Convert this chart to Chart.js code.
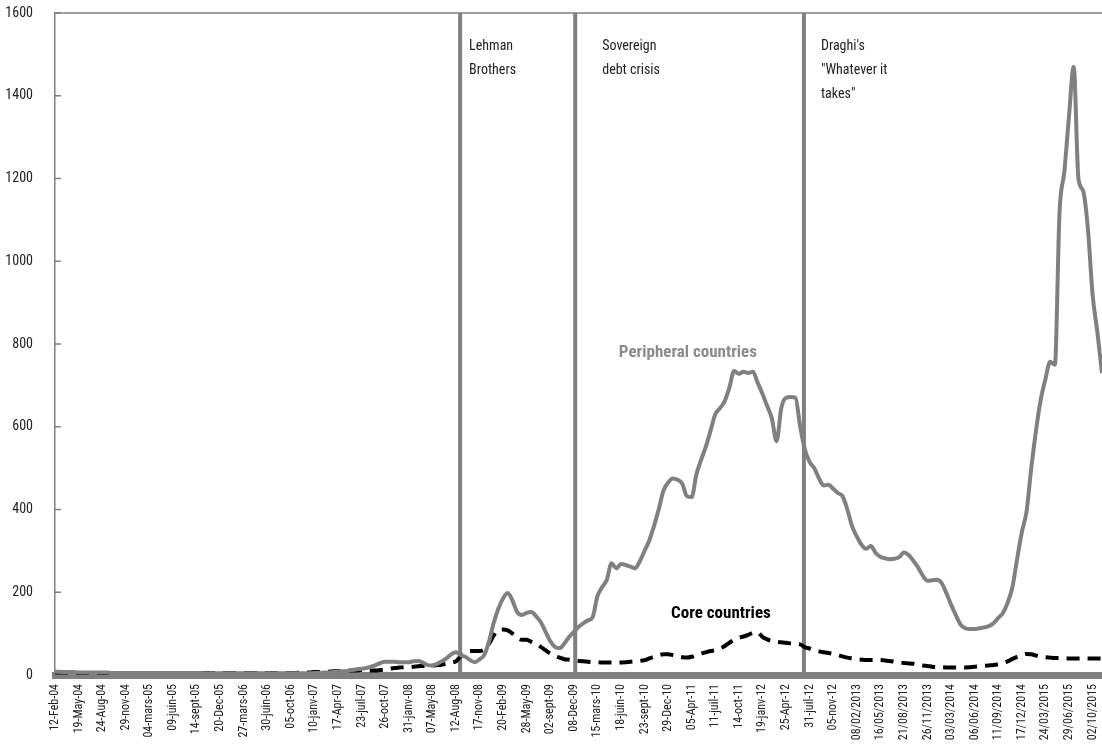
<!DOCTYPE html>
<html>
<head>
<meta charset="utf-8">
<script src="https://cdn.jsdelivr.net/npm/chart.js@4"></script>
<style>
html, body { margin: 0; padding: 0; background: #fff; overflow: hidden; }
</style>
</head>
<body>
<canvas id="myChart" width="1102" height="751"></canvas>
<script>
// tick labels, one every 5 data points
var tickLabels = ['12-Feb-04', '19-May-04', '24-Aug-04', '29-nov-04', '04-mars-05', '09-juin-05', '14-sept-05', '20-Dec-05',
    '27-mars-06', '30-juin-06', '05-oct-06', '10-janv-07', '17-Apr-07', '23-juil-07', '26-oct-07', '31-janv-08',
    '07-May-08', '12-Aug-08', '17-nov-08', '20-Feb-09', '28-May-09', '02-sept-09', '08-Dec-09', '15-mars-10',
    '18-juin-10', '23-sept-10', '29-Dec-10', '05-Apr-11', '11-juil-11', '14-oct-11', '19-janv-12', '25-Apr-12',
    '31-juil-12', '05-nov-12', '08/02/2013', '16/05/2013', '21/08/2013', '26/11/2013', '03/03/2014', '06/06/2014',
    '11/09/2014', '17/12/2014', '24/03/2015', '29/06/2015', '02/10/2015'];

var peripheral = [
    8, 8, 7, 7, 7, 6, 6, 6, 6, 6,
    6, 6, 5, 5, 5, 5, 5, 5, 5, 5,
    5, 5, 5, 5, 5, 5, 5, 5, 5, 5,
    5, 5, 4, 4, 4, 4, 4, 4, 4, 4,
    4, 4, 4, 4, 4, 4, 4, 4, 4, 4,
    4, 4, 4, 4, 4, 5, 5, 6, 6, 7,
    8, 9, 10, 12, 14, 15, 17, 20, 24, 29,
    32, 32, 32, 31, 31, 31, 33, 34, 30, 24,
    23, 27, 33, 40, 50, 55, 48, 44, 36, 31,
    38, 48, 80, 125, 160, 185, 198, 180, 152, 145,
    150, 152, 142, 128, 105, 82, 68, 65, 76, 92,
    104, 116, 125, 132, 140, 190, 212, 230, 270, 258,
    268, 266, 262, 258, 275, 300, 325, 360, 400, 445,
    465, 475, 472, 462, 432, 430, 485, 520, 552, 590,
    630, 645, 662, 695, 735, 728, 733, 730, 733, 706,
    680, 650, 620, 565, 645, 670, 672, 670, 600, 545,
    515, 500, 475, 458, 460, 450, 440, 432, 400, 360,
    335, 315, 305, 312, 295, 286, 282, 280, 281, 285,
    296, 290, 276, 260, 240, 228, 229, 230, 222, 198,
    170, 145, 122, 113, 111, 111, 113, 115, 118, 125,
    138, 150, 175, 212, 280, 345, 395, 500, 590, 665,
    715, 757, 750, 1120, 1215, 1350, 1470, 1200, 1170, 1080,
    920, 830, 730];

var core = [
    6, 6, 6, 6, 5, 5, 5, 5, 5, 5,
    5, 5, 5, 5, 5, 5, 5, 5, 5, 5,
    5, 5, 5, 5, 5, 5, 5, 5, 5, 5,
    5, 5, 5, 5, 5, 5, 5, 5, 5, 5,
    5, 5, 5, 5, 5, 5, 5, 5, 5, 5,
    5, 5, 6, 6, 6, 7, 7, 8, 8, 9,
    9, 10, 10, 11, 11, 12, 12, 11, 11, 12,
    13, 15, 17, 18, 19, 19, 20, 21, 22, 23,
    23, 24, 25, 27, 30, 33, 45, 56, 58, 58,
    58, 62, 75, 95, 108, 110, 108, 100, 90, 85,
    85, 80, 75, 68, 60, 52, 46, 42, 38, 37,
    35, 34, 33, 32, 31, 31, 30, 30, 30, 29,
    30, 31, 32, 33, 34, 36, 40, 44, 48, 50,
    50, 48, 45, 43, 42, 44, 48, 52, 55, 58,
    60, 64, 70, 78, 85, 90, 93, 97, 102, 103,
    92, 86, 82, 80, 79, 78, 76, 75, 74, 67,
    64, 60, 57, 55, 53, 51, 48, 45, 42, 40,
    38, 37, 36, 36, 36, 36, 35, 34, 32, 30,
    29, 28, 27, 25, 23, 22, 20, 19, 19, 18,
    18, 18, 18, 18, 19, 20, 21, 22, 23, 24,
    26, 29, 33, 39, 44, 48, 51, 50, 47, 44,
    43, 42, 41, 41, 40, 40, 40, 40, 40, 40,
    40, 40, 40];

// events: position on the x axis (data index) and caption lines
var eventAt = [85.9, 110.3, 158.8];
var eventText = [['Lehman', 'Brothers'], ['Sovereign', 'debt crisis'], ["Draghi's", '"Whatever it', 'takes"']];
var seriesNames = ['Peripheral countries', 'Core countries'];
// where the series names sit: [data index, value]
var seriesNameAt = [[134.2, 778], [141.2, 149]];

var labels = [];
for (var i = 0; i < peripheral.length; i++) {
    labels.push(i % 5 === 0 ? tickLabels[i / 5] : '');
}

var FONT = "'Roboto Condensed', 'DejaVu Sans Condensed', sans-serif";
Chart.defaults.font.family = FONT;
Chart.defaults.color = '#222';

var extras = {
    id: 'extras',
    beforeDatasetsDraw: function (chart) {
        var ctx = chart.ctx, a = chart.chartArea, x = chart.scales.x, y = chart.scales.y;
        ctx.save();
        ctx.strokeStyle = '#808080';
        ctx.lineWidth = 1.5;
        // top frame line
        ctx.beginPath();
        ctx.moveTo(a.left, a.top);
        ctx.lineTo(a.right, a.top);
        ctx.stroke();
        // small tick marks inside the y axis
        y.ticks.forEach(function (t) {
            var py = y.getPixelForValue(t.value);
            ctx.beginPath();
            ctx.moveTo(a.left, py);
            ctx.lineTo(a.left + 6, py);
            ctx.stroke();
        });
        // event lines and captions
        ctx.lineWidth = 4;
        ctx.fillStyle = '#222';
        ctx.font = '14px ' + FONT;
        ctx.textBaseline = 'middle';
        var offs = [9, 27, 17];
        eventAt.forEach(function (v, k) {
            var px = x.getPixelForValue(v);
            ctx.beginPath();
            ctx.moveTo(px, a.top);
            ctx.lineTo(px, a.bottom);
            ctx.stroke();
            eventText[k].forEach(function (line, j) {
                ctx.fillText(line, px + offs[k], a.top + 33 + j * 24);
            });
        });
        ctx.restore();
    },
    afterDatasetsDraw: function (chart) {
        var ctx = chart.ctx, x = chart.scales.x, y = chart.scales.y;
        ctx.save();
        ctx.font = 'bold 17px ' + FONT;
        ctx.textAlign = 'center';
        ctx.textBaseline = 'middle';
        var colors = ['#8c8c8c', '#000'];
        seriesNames.forEach(function (name, k) {
            ctx.fillStyle = colors[k];
            ctx.fillText(name, x.getPixelForValue(seriesNameAt[k][0]), y.getPixelForValue(seriesNameAt[k][1]));
        });
        ctx.restore();
    }
};

var ctx = document.getElementById('myChart').getContext('2d');
var chart = new Chart(ctx, {
    type: 'line',
    data: {
        labels: labels,
        datasets: [{
            label: seriesNames[0],
            data: peripheral,
            borderColor: '#808080',
            borderWidth: 4,
            pointRadius: 0,
            cubicInterpolationMode: 'monotone'
        }, {
            label: seriesNames[1],
            data: core,
            borderColor: '#000',
            borderWidth: 4,
            borderDash: [13, 8],
            pointRadius: 0,
            cubicInterpolationMode: 'monotone'
        }]
    },
    options: {
        responsive: false,
        animation: false,
        events: [],
        layout: { padding: { top: 13, right: 0, left: 0, bottom: 0 } },
        plugins: {
            legend: { display: false },
            tooltip: { enabled: false }
        },
        scales: {
            x: {
                grid: { display: false, drawTicks: false },
                border: { color: '#808080', width: 7 },
                ticks: {
                    autoSkip: false,
                    maxRotation: 90,
                    minRotation: 90,
                    padding: 9,
                    font: { size: 12 }
                },
                afterFit: function (s) {
                    s.height = 76;
                    s.paddingLeft = 0;
                    s.paddingRight = 0;
                    s.paddingTop = 0;
                    s.paddingBottom = 0;
                }
            },
            y: {
                min: 0,
                max: 1600,
                grid: { display: false, drawTicks: false },
                border: { color: '#808080', width: 1.5 },
                ticks: {
                    stepSize: 200,
                    padding: 22,
                    font: { size: 14 },
                    callback: function (v) { return String(v); }
                },
                afterFit: function (s) {
                    s.width = 55;
                    s.paddingTop = 0;
                    s.paddingBottom = 0;
                }
            }
        }
    },
    plugins: [extras]
});
</script>
</body>
</html>
